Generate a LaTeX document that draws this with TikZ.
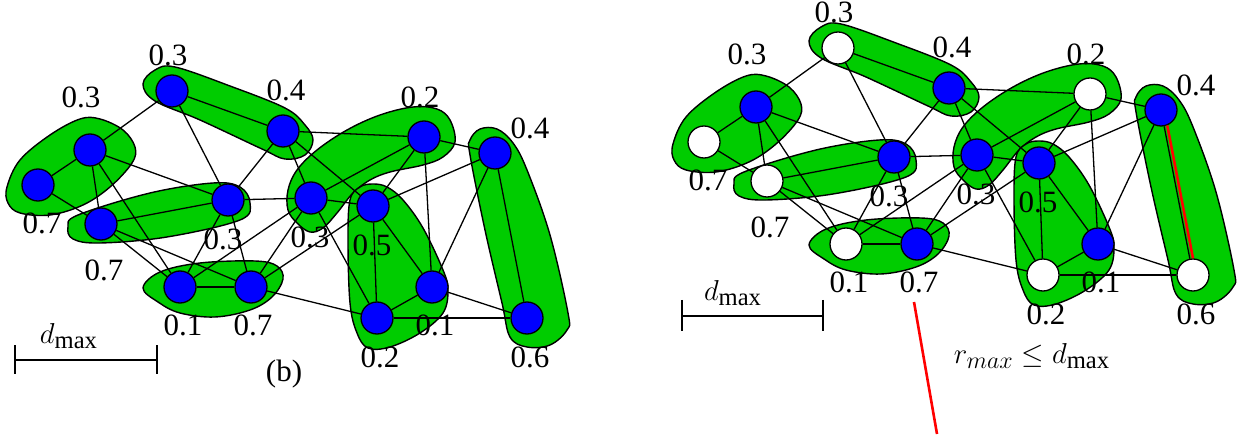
\documentclass[tikz,border=0pt]{standalone}
\usepackage{fontspec}
\setmainfont{Liberation Serif}
\DeclareMathSizes{14.5}{14.5}{12.3}{9.5}
\pgfdeclarelayer{blobs}
\pgfdeclarelayer{edges}
\pgfsetlayers{blobs,edges,main}
\definecolor{blobgreen}{RGB}{0,204,0}
\definecolor{vblue}{RGB}{0,0,255}
\tikzset{
 vtx/.style={circle, draw=black, line width=0.65pt, minimum size=16pt, inner sep=0pt},
 conn/.style={draw=black, line width=0.65pt},
 blob/.style={draw=black, fill=blobgreen, line width=0.7pt},
 lab/.style={font=\fontsize{15.5}{18}\selectfont, inner sep=0pt},
 mlab/.style={font=\fontsize{14.5}{17}\selectfont, inner sep=0pt},
 bar/.style={draw=black, line width=0.65pt},
 redline/.style={draw=red, line width=1.3pt},
}
\def\nodelist{A/38/185/white,B/90/150/vblue,C/101/224/white,D/172/91/white,E/283/131/vblue,F/228/200/vblue,G/180/287/white,H/251/287/vblue,I/311/198/vblue,J/424/137/white,K/373/206/vblue,L/495/153/vblue,M/432/287/vblue,N/377/318/white,O/527/318/white}
\def\edgelist{A/B,A/C,B/C,B/D,B/F,B/G,C/F,C/G,C/H,D/E,D/F,E/F,E/I,E/J,E/K,F/G,F/H,F/I,G/H,G/I,H/I,H/K,H/N,I/J,I/K,I/N,J/K,J/L,J/M,K/L,K/M,K/N,L/M,L/O,M/N,M/O,N/O}
\def\lablist{D/168/55/0.3,B/81/97/0.3,E/286/90/0.4,A/42/223/0.7,C/104/270/0.7,F/223/239/0.3,G/183/325/0.1,H/253/325/0.7,I/310/237/0.3,J/420/97/0.2,K/372/245/0.5,L/530/128/0.4,M/435/325/0.1,N/380/357/0.2,O/530/357/0.6}
\newcommand\drawblobs{%
 \path[blob] plot[smooth cycle,tension=0.6] coordinates {(7,187) (20,160) (50,135) (80,119) (100,119) (123,130) (135,147) (132,163) (110,187) (83,205) (50,215) (20,213) (8,203)};
 \path[blob] plot[smooth cycle,tension=0.6] coordinates {(143,84) (155,70) (175,67) (230,86) (285,108) (305,125) (313,140) (305,155) (285,159) (262,149) (200,120) (155,101)};
 \path[blob] plot[smooth cycle,tension=0.6] coordinates {(68,227) (78,215) (150,193) (213,183) (240,187) (250,203) (240,220) (167,237) (100,243) (73,239)};
 \path[blob] plot[smooth cycle,tension=0.6] coordinates {(143,288) (160,272) (200,263) (255,261) (277,266) (283,279) (272,297) (250,310) (215,317) (180,313) (158,302)};
 \path[blob] plot[smooth cycle,tension=0.6] coordinates {(455,142) (450,120) (437,109) (413,107) (380,115) (347,130) (317,150) (297,170) (288,190) (288,210) (297,223) (310,232) (323,228) (337,213) (353,193) (370,180) (390,172) (423,165) (443,157)};
 \path[blob] plot[smooth cycle,tension=0.6] coordinates {(373,184) (360,187) (350,200) (348,240) (350,303) (357,333) (368,348) (390,347) (420,333) (443,313) (448,290) (443,270) (423,228) (403,200) (387,187)};
 \path[blob] plot[smooth cycle,tension=0.6] coordinates {(480,129) (470,140) (470,155) (485,230) (502,303) (510,337) (527,347) (550,345) (567,330) (568,313) (550,235) (527,170) (513,143) (497,129)};
}
\newcommand\drawpanel[2]{%
 \begin{pgfonlayer}{blobs}\drawblobs\end{pgfonlayer}
 \foreach \n/\x/\y/\c in \nodelist {\node[vtx,fill=#2] (#1\n) at (\x,\y) {};}
 \begin{pgfonlayer}{edges}
 \foreach \a/\b in \edgelist {\draw[conn] (#1\a) -- (#1\b);}
 \end{pgfonlayer}
 \foreach \n/\x/\y/\t in \lablist {\node[lab] (#1lab\n) at (\x,\y) {\t};}
}
\begin{document}
\begin{tikzpicture}[x=0.5pt,y=-0.5pt]
\useasboundingbox (0,0) rectangle (1237,438);
% left panel
\drawpanel{L}{vblue}
\draw[bar] (15,345) -- (15,374) (15,360) -- (157,360) (157,345) -- (157,374);
\node[mlab] (ldmax) at (69,336) {$d_{\max}$};
\node[lab] (blabel) at (284,374) {(b)};
% right panel
\begin{scope}[shift={(666,-43)}]
\drawpanel{R}{\c}
\end{scope}
\draw[bar] (682,300) -- (682,331) (682,316) -- (823,316) (823,300) -- (823,331);
\node[mlab] (rdmax) at (733,293) {$d_{\max}$};
\node[mlab] (rmax) at (1032,356) {$r_{max} \le d_{\max}$};
\draw[redline] (RL.-68) -- (RO.north);
\coordinate (redA) at (914,302);
\coordinate (redB) at (937,434);
\draw[redline] (redA) -- (redB);
\end{tikzpicture}
\end{document}
